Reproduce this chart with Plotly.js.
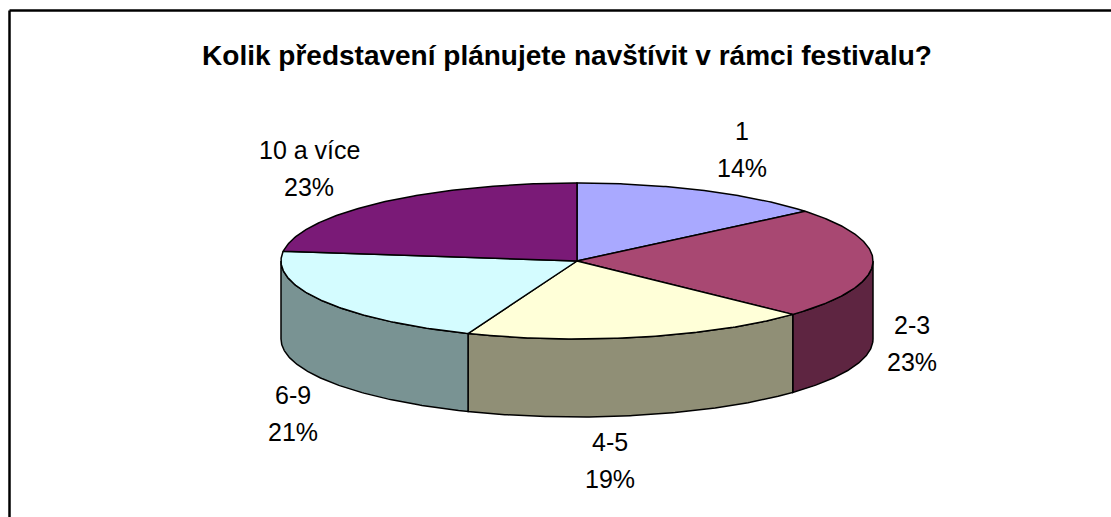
<!DOCTYPE html>
<html>
<head>
<meta charset="utf-8">
<script src="https://cdn.plot.ly/plotly-3.0.1.min.js"></script>
<style>html,body{margin:0;padding:0;background:#fff;}#chart{width:1111px;height:517px;}</style>
</head>
<body>
<div id="chart"></div>
<script>
// ---- data ----
const chartTitle = 'Kolik představení plánujete navštívit v rámci festivalu?';
const categories = ['1', '2-3', '4-5', '6-9', '10 a více'];
const percents = [14, 23, 19, 21, 23];

// ---- styles ----
const topColors = ['#A9A9FF', '#A84872', '#FFFFD8', '#D4FCFF', '#7A1A77'];
const sideColors = ['#6E6EA8', '#5E2541', '#908F76', '#799393', '#4A0F48'];
const labelPos = [[742, 131], [912, 325], [610, 442], [293, 395], [309, 150]];
const labelGap = 37;

// ---- geometry of the tilted pie (pixel space of a hidden axis) ----
const cx = 577, cy = 261, rx = 296, ry = 78, depth = 78;
const rad = d => d * Math.PI / 180;
const px = a => cx + rx * Math.sin(rad(a));
const py = a => cy - ry * Math.cos(rad(a));

const total = percents.reduce((s, v) => s + v, 0);
const bounds = [];
let acc = 0;
percents.forEach(v => { const a0 = acc / total * 360; acc += v; bounds.push([a0, acc / total * 360]); });

function arc(a0, a1, dy) {
  const xs = [], ys = [];
  const n = Math.max(2, Math.ceil(Math.abs(a1 - a0) / 0.5));
  for (let i = 0; i <= n; i++) {
    const a = a0 + (a1 - a0) * i / n;
    xs.push(px(a)); ys.push(py(a) + dy);
  }
  return [xs, ys];
}

const traces = [];
// side walls (front half only)
bounds.forEach(([a0, a1], i) => {
  const s = Math.max(a0, 90), e = Math.min(a1, 270);
  if (s < e) {
    const [tx, ty] = arc(s, e, 0);
    const [bx, by] = arc(e, s, depth);
    traces.push({
      type: 'scatter', mode: 'lines', fill: 'toself',
      x: tx.concat(bx, [tx[0]]), y: ty.concat(by, [ty[0]]),
      fillcolor: sideColors[i], line: { color: '#000', width: 1.5 },
      hoverinfo: 'skip', showlegend: false
    });
  }
});
// top faces
bounds.forEach(([a0, a1], i) => {
  const [ax, ay] = arc(a0, a1, 0);
  traces.push({
    type: 'scatter', mode: 'lines', fill: 'toself',
    x: [cx].concat(ax, [cx]), y: [cy].concat(ay, [cy]),
    fillcolor: topColors[i], line: { color: '#000', width: 1.5 },
    hoverinfo: 'skip', showlegend: false
  });
});

const font = { family: 'Liberation Sans, Arial, sans-serif', size: 25, color: '#000' };
const annotations = [];
categories.forEach((c, i) => {
  const pct = Math.round(percents[i] / total * 100) + '%';
  annotations.push({ x: labelPos[i][0], y: labelPos[i][1], xref: 'x', yref: 'y', text: c, showarrow: false, font: font, xanchor: 'center', yanchor: 'middle' });
  annotations.push({ x: labelPos[i][0], y: labelPos[i][1] + labelGap, xref: 'x', yref: 'y', text: pct, showarrow: false, font: font, xanchor: 'center', yanchor: 'middle' });
});

const layout = {
  width: 1111, height: 517,
  margin: { l: 0, r: 0, t: 0, b: 0 },
  paper_bgcolor: '#fff', plot_bgcolor: '#fff',
  title: {
    text: '<b>' + chartTitle + '</b>',
    font: { family: 'Liberation Sans, Arial, sans-serif', size: 28, color: '#000' },
    x: 567 / 1111, xanchor: 'center', xref: 'paper',
    y: 1 - 55 / 517, yanchor: 'middle', yref: 'container'
  },
  xaxis: { range: [0, 1111], visible: false, fixedrange: true },
  yaxis: { range: [517, 0], visible: false, fixedrange: true },
  showlegend: false,
  annotations: annotations,
  shapes: [
    { type: 'line', xref: 'x', yref: 'y', x0: 9.5, x1: 1200, y0: 10.5, y1: 10.5, line: { color: '#000', width: 2.5 } },
    { type: 'line', xref: 'x', yref: 'y', x0: 9.5, x1: 9.5, y0: 10.5, y1: 600, line: { color: '#000', width: 2.5 } }
  ]
};

Plotly.newPlot('chart', traces, layout, { displayModeBar: false, staticPlot: true });
</script>
</body>
</html>
